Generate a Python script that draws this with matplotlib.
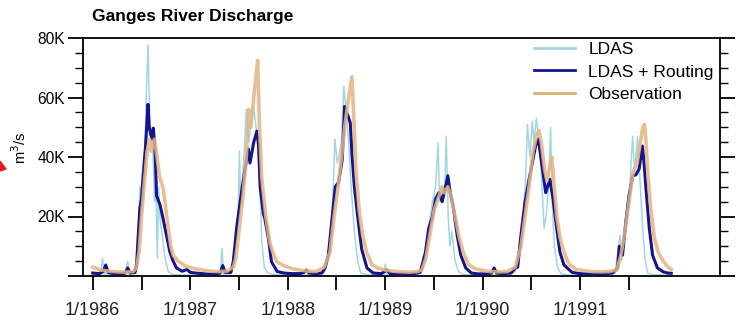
import numpy as np
import matplotlib
matplotlib.use('Agg')
import matplotlib.pyplot as plt
from matplotlib.patches import Polygon

plt.rcParams['font.family'] = ['Liberation Sans', 'DejaVu Sans']

# time in months since 1/1986, discharge in thousands of m3/s
ldas_m = [0, 1.0, 1.2, 1.4, 2.5, 4.0, 4.3, 4.5, 5.3, 5.6, 5.8, 5.95, 6.2, 6.4, 6.6, 6.8, 7.0, 7.2,
          7.4, 7.6, 7.8, 7.95, 8.1, 8.3, 8.5, 8.9, 9.3, 9.8, 11, 13, 15, 15.7, 15.9, 16.1, 17.0,
          17.4, 17.9, 18.05, 18.2, 18.5, 18.9, 19.2, 19.5, 19.8, 20.1, 20.4, 20.6, 20.8, 21.1,
          21.5, 22.5, 24, 26, 27.5, 28.4, 28.8, 29.3, 29.6, 29.8, 30.1, 30.3, 30.6, 30.9, 31.2,
          31.5, 31.8, 32.2, 32.6, 33.0, 34, 35.5, 35.9, 36.0, 36.2, 38, 40, 40.5, 40.8, 41.3,
          41.8, 42.2, 42.5, 42.7, 43.0, 43.3, 43.5, 43.75, 43.95, 44.2, 44.6, 45.0, 45.5, 47,
          49, 51, 52.0, 52.5, 53.0, 53.3, 53.5, 53.8, 54.1, 54.3, 54.6, 54.9, 55.2, 55.55, 55.8,
          56.1, 56.35, 56.55, 56.8, 57.2, 57.6, 58.5, 61, 63, 64.3, 64.9, 65.1, 65.5, 66.0,
          66.45, 66.7, 67.05, 67.4, 67.7, 68.0, 68.3, 69, 71.2]
ldas_q = [0.5, 0.5, 6, 0.8, 0.4, 0.6, 5, 0.6, 1, 12, 30, 20, 28, 40, 62, 77.7, 55, 45,
          42, 25, 27, 6, 30, 18.7, 15, 6, 1.5, 0.5, 0.3, 0.3, 0.4, 0.5, 9.3, 0.6, 0.8,
          8, 20, 42, 25, 35, 56, 45, 52, 57, 50, 45, 30, 12, 3,
          1, 0.4, 0.3, 0.3, 0.4, 1, 5, 15, 30, 46, 38, 40, 45, 63.7, 55,
          45, 30, 15, 5, 1, 0.4, 0.3, 0.5, 4, 0.5, 0.3, 0.4, 1.5, 5, 15,
          25, 30, 44.8, 25, 30, 28, 47, 20, 10, 15, 5, 1.5, 0.5, 0.3,
          0.3, 0.4, 1.5, 10, 20, 35, 51, 40, 52, 45, 53, 45, 35, 16, 20,
          30, 50, 25, 10, 3, 0.8, 0.3, 0.3, 0.4, 1.5, 13.7, 5, 15, 25,
          47, 35, 47, 30, 15, 5, 1.0, 0.4, 0.3]

rout_m = [0, 0.8, 1.3, 1.6, 1.9, 2.5, 3.5, 4.0, 4.3, 4.6, 5.2, 5.4, 5.6, 5.8, 6.0, 6.2, 6.5, 6.8,
          6.95, 7.1, 7.3, 7.45, 7.6, 7.7, 7.85, 8.0, 8.3, 8.6, 8.9, 9.2, 9.5, 9.9, 10.3, 11.0,
          11.6, 12.0, 13, 14, 15, 15.7, 16.0, 16.3, 17.0, 17.3, 17.7, 18.3, 18.75, 19.15, 19.35,
          19.8, 20.2, 20.4, 20.6, 21.0, 21.2, 21.4, 21.6, 22.0, 22.7, 23.5, 24.5, 25.5, 26.0,
          26.3, 26.6, 27.5, 28.2, 28.6, 29.0, 29.4, 29.85, 30.25, 30.7, 31.0, 31.2, 31.4, 31.7,
          31.9, 32.2, 32.65, 33.1, 33.75, 34.5, 35.5, 36.2, 36.6, 37.5, 38.5, 39.5, 40.3, 40.95,
          41.35, 41.8, 42.2, 42.6, 43.0, 43.4, 43.7, 44.0, 44.4, 44.85, 45.3, 45.9, 46.6, 47.5,
          48.5, 49.1, 49.4, 49.7, 50.5, 51.5, 52.0, 52.3, 52.7, 53.2, 53.7, 54.1, 54.5, 54.85,
          55.25, 55.75, 56.25, 56.65, 57.1, 57.5, 58.0, 59.0, 60, 61, 62, 63, 64.0, 64.6, 64.8,
          65.2, 65.6, 66.0, 66.45, 66.85, 67.25, 67.65, 67.85, 68.1, 68.5, 68.9, 69.5, 70.2,
          70.75, 71.2]
rout_q = [1.0, 0.8, 1.5, 3.7, 1.2, 0.8, 0.7, 1.0, 2.7, 1.0, 1.2, 4, 13.7, 22.7, 26, 33.7, 43.7, 57.7,
          50, 48, 46, 49.7, 45, 40, 27, 26, 23.7, 20, 16, 12, 8, 5, 2.7, 1.6,
          2.2, 1.2, 0.9, 0.7, 0.7, 1.0, 3.5, 1.2, 1.2, 4.8, 16, 28, 36, 42.7, 38,
          44.8, 48.7, 44, 30, 21, 19, 16, 13, 4.8, 1.5, 1.0, 0.8, 0.8, 1.2,
          2.0, 1.0, 0.8, 1.0, 2.7, 7, 18, 30, 31.5, 39, 57, 55, 54, 51.4,
          41, 30, 19, 9, 2.7, 1.0, 0.8, 2.0, 0.8, 0.7, 0.7, 0.8, 1.2, 8,
          16, 20, 26, 28, 25, 29.6, 33.7, 28, 22.7, 13.7, 7, 2.7, 1.0, 0.7,
          0.8, 1.0, 2.7, 1.0, 0.8, 1.0, 2.7, 3.0, 13.7, 24.8, 32.5, 38, 43.7, 46,
          38, 28, 32.5, 26, 16, 8, 3.7, 1.2, 0.8, 0.7, 0.7, 0.8, 1.0, 2.7, 10,
          7, 18, 27, 33.7, 34, 36, 43.7, 38, 29, 16, 7, 2.7, 1.4,
          1.0, 0.9]

obs_m = [0, 0.5, 1.0, 2, 3, 4, 5, 5.4, 5.7, 6.0, 6.4, 6.7, 7.0, 7.2, 7.4, 7.6, 7.9, 8.2, 8.7, 9.2,
         9.6, 9.9, 10.5, 11.5, 12.5, 13.5, 14.5, 15.5, 16.5, 17.3, 17.6, 18.0, 18.5, 18.9, 19.2,
         19.45, 19.7, 20.0, 20.3, 20.5, 20.8, 21.3, 21.8, 22.3, 22.65, 23.5, 24.5, 25.5, 26.5,
         27.5, 28.5, 29.2, 29.7, 30.2, 30.7, 31.0, 31.5, 31.9, 32.1, 32.4, 32.8, 33.2, 33.7,
         34.4, 35.2, 36.0, 37, 38, 39, 40, 40.5, 41.0, 41.5, 42.0, 42.5, 43.0, 43.3, 43.7, 44.1,
         44.6, 45.1, 45.6, 46.2, 47.0, 48, 49, 50, 51, 52.0, 52.7, 53.2, 53.7, 54.2, 54.6, 54.9,
         55.2, 55.6, 55.9, 56.2, 56.5, 56.8, 57.1, 57.5, 58.0, 58.6, 59.5, 60.5, 61.5, 62.5,
         63.5, 64.5, 65.0, 65.5, 66.0, 66.5, 67.0, 67.4, 67.7, 67.9, 68.1, 68.3, 68.7, 69.1,
         69.6, 70.2, 70.8, 71.2]
obs_q = [3.0, 2.5, 2.0, 1.6, 1.4, 1.3, 1.5, 3, 8, 20, 33, 42, 46, 42, 44, 46, 40, 34, 29, 18,
         10, 7, 5, 3.2, 2.5, 2.0, 1.6, 1.5, 1.6, 3, 6, 15, 27, 40, 56,
         50, 57, 65, 72.5, 52, 33, 20, 11, 7, 4.8, 3.5, 2.5, 2.0, 1.6,
         1.5, 3, 8, 20, 30, 42, 50, 60, 67, 55, 35, 22, 14, 8,
         3.7, 2.5, 2.0, 1.6, 1.4, 1.3, 1.5, 2, 6, 14, 22, 26, 30, 28, 30, 27,
         20, 13, 8, 4, 2.5, 1.8, 1.5, 1.4, 1.5, 3, 10, 20, 30, 42, 47, 49,
         45, 36, 32, 36, 40, 30, 20, 13, 8, 4, 2.2, 1.8, 1.5, 1.4,
         1.5, 2.0, 7, 15, 25, 35, 38, 45, 50, 51, 45, 35, 22, 13,
         8, 5, 3, 2.2]

tick_months = list(range(0, 67, 6))
year_labels = ['1/1986', '1/1987', '1/1988', '1/1989', '1/1990', '1/1991']
y_ticks = [0, 20, 40, 60, 80]
y_labels = ['', '20K', '40K', '60K', '80K']

fig = plt.figure(figsize=(7.38, 3.22), dpi=100)
ax = fig.add_axes([83 / 738, 1 - 276 / 322, 637 / 738, 238 / 322])

ax.plot(ldas_m, ldas_q, color='#a3d6e4', lw=1.1, label='LDAS', zorder=2)
ax.plot(rout_m, rout_q, color='#14148f', lw=2.2, label='LDAS + Routing', zorder=3)
ax.plot(obs_m, obs_q, color='#e4b483', lw=2.6, alpha=0.85, label='Observation', zorder=4)

ax.set_xlim(-1.2, 77.2)
ax.set_ylim(0, 80)

xlabels = []
for m in tick_months:
    xlabels.append(year_labels[m // 12] if m % 12 == 0 else '')
ax.set_xticks(tick_months)
ax.set_xticklabels(xlabels, fontsize=13, color='#222222')
ax.set_yticks(y_ticks)
ax.set_yticklabels(y_labels, fontsize=11.2)
ax.set_yticks(np.arange(0, 81, 5), minor=True)

ax.tick_params(axis='x', which='major', direction='out', length=10, width=1.3, pad=9, top=False)
ax.tick_params(axis='y', which='major', direction='out', length=11, width=1.3, pad=2,
               left=True, right=True)
ax.tick_params(axis='y', which='minor', direction='out', length=5.5, width=1.0,
               left=True, right=True)
ax.tick_params(axis='x', which='minor', bottom=False, top=False)
for s in ax.spines.values():
    s.set_linewidth(1.3)

leg = ax.legend(loc='upper left', bbox_to_anchor=(0.7075, 0.985), frameon=False,
                fontsize=12.5, handlelength=2.4, handletextpad=0.75, labelspacing=0.44,
                borderpad=0, borderaxespad=0)
for line in leg.get_lines():
    line.set_linewidth(2.0)
    line.set_alpha(1)
leg.get_lines()[2].set_color('#d9b46c')

fig.text(92 / 738, 1 - 17 / 322, 'Ganges River Discharge', fontsize=12.5, fontweight='bold',
         ha='left', va='center')
fig.text(20 / 738, 1 - 148 / 322, 'm$^3$/s', fontsize=10.5, rotation=90,
         ha='center', va='center')

# small red marker cut at the left edge
fig.patches.append(Polygon([(0, 1 - 161 / 322), (6 / 738, 1 - 169 / 322), (0, 1 - 171 / 322)],
                           closed=True, transform=fig.transFigure, color='#e8191c'))

fig.savefig('out.png', dpi=100)
